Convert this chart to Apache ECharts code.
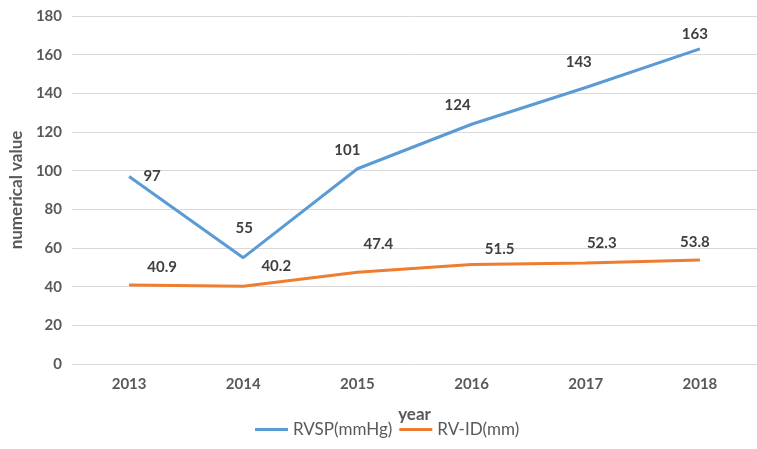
<!DOCTYPE html>
<html>
<head>
<meta charset="utf-8">
<script src="https://cdn.jsdelivr.net/npm/echarts@6/dist/echarts.min.js"></script>
<style>
html, body { margin: 0; padding: 0; background: #fff; }
#chart { width: 757px; height: 449px; }
</style>
</head>
<body>
<div id="chart"></div>
<script>
// data
var years = ['2013', '2014', '2015', '2016', '2017', '2018'];
var rvsp = [97, 55, 101, 124, 143, 163];
var rvid = [40.9, 40.2, 47.4, 51.5, 52.3, 53.8];
var yTicks = [0, 20, 40, 60, 80, 100, 120, 140, 160, 180];

// where each data label sits relative to its point (px)
var rvspLabelShift = [[23, 0], [1, -30], [-10, -19], [-14, -19], [-7, -25], [-5, -15]];
var rvidLabelShift = [[33, -18], [33, -20], [21, -28], [28, -15], [16, -20], [-5, -18]];

var font = 'Lato, "Noto Sans", sans-serif';

function withLabels(values, shifts) {
  return values.map(function (v, i) {
    return { value: v, label: { offset: shifts[i] } };
  });
}

var chart = echarts.init(document.getElementById('chart'));
var option = {
  backgroundColor: '#fff',
  animation: false,
  textStyle: { fontFamily: font },
  grid: { left: 70, right: -13, top: 16, bottom: 85 },
  legend: {
    left: 250,
    top: 416,
    itemWidth: 33,
    itemHeight: 14,
    itemGap: 7,
    textStyle: { fontSize: 17, color: '#595959', fontFamily: font },
    data: [
      { name: 'RVSP(mmHg)', icon: 'path://M0,6 L33,6 L33,9 L0,9 Z', itemStyle: { color: '#5B9BD5', opacity: 1 } },
      { name: 'RV-ID(mm)', icon: 'path://M0,6 L33,6 L33,9 L0,9 Z', itemStyle: { color: '#ED7D31', opacity: 1 } }
    ]
  },
  xAxis: {
    type: 'category',
    data: years,
    name: 'year',
    nameLocation: 'middle',
    nameGap: 42,
    nameTextStyle: { fontSize: 17, fontWeight: 'bold', color: '#595959' },
    axisLine: { lineStyle: { color: '#d9d9d9', width: 1 } },
    axisTick: { show: false },
    axisLabel: { fontSize: 15, fontWeight: 'bold', color: '#595959', margin: 13 }
  },
  yAxis: {
    type: 'value',
    min: yTicks[0],
    max: yTicks[yTicks.length - 1],
    interval: yTicks[1] - yTicks[0],
    name: 'numerical value',
    nameLocation: 'middle',
    nameGap: 42,
    nameTextStyle: { fontSize: 17, fontWeight: 'bold', color: '#595959' },
    axisLine: { show: false },
    axisTick: { show: false },
    splitLine: { lineStyle: { color: '#d9d9d9', width: 1 } },
    axisLabel: { fontSize: 15, fontWeight: 'bold', color: '#595959', margin: 10 }
  },
  series: [
    {
      name: 'RVSP(mmHg)',
      type: 'line',
      data: withLabels(rvsp, rvspLabelShift),
      symbol: 'circle',
      symbolSize: 0,
      showSymbol: true,
      color: '#5B9BD5',
      lineStyle: { width: 3, color: '#5B9BD5' },
      label: {
        show: true,
        position: 'inside',
        fontSize: 15,
        fontWeight: 'bold',
        color: '#404040'
      }
    },
    {
      name: 'RV-ID(mm)',
      type: 'line',
      data: withLabels(rvid, rvidLabelShift),
      symbol: 'circle',
      symbolSize: 0,
      showSymbol: true,
      color: '#ED7D31',
      lineStyle: { width: 3, color: '#ED7D31' },
      label: {
        show: true,
        position: 'inside',
        fontSize: 15,
        fontWeight: 'bold',
        color: '#404040'
      }
    }
  ]
};
chart.setOption(option);
</script>
</body>
</html>
